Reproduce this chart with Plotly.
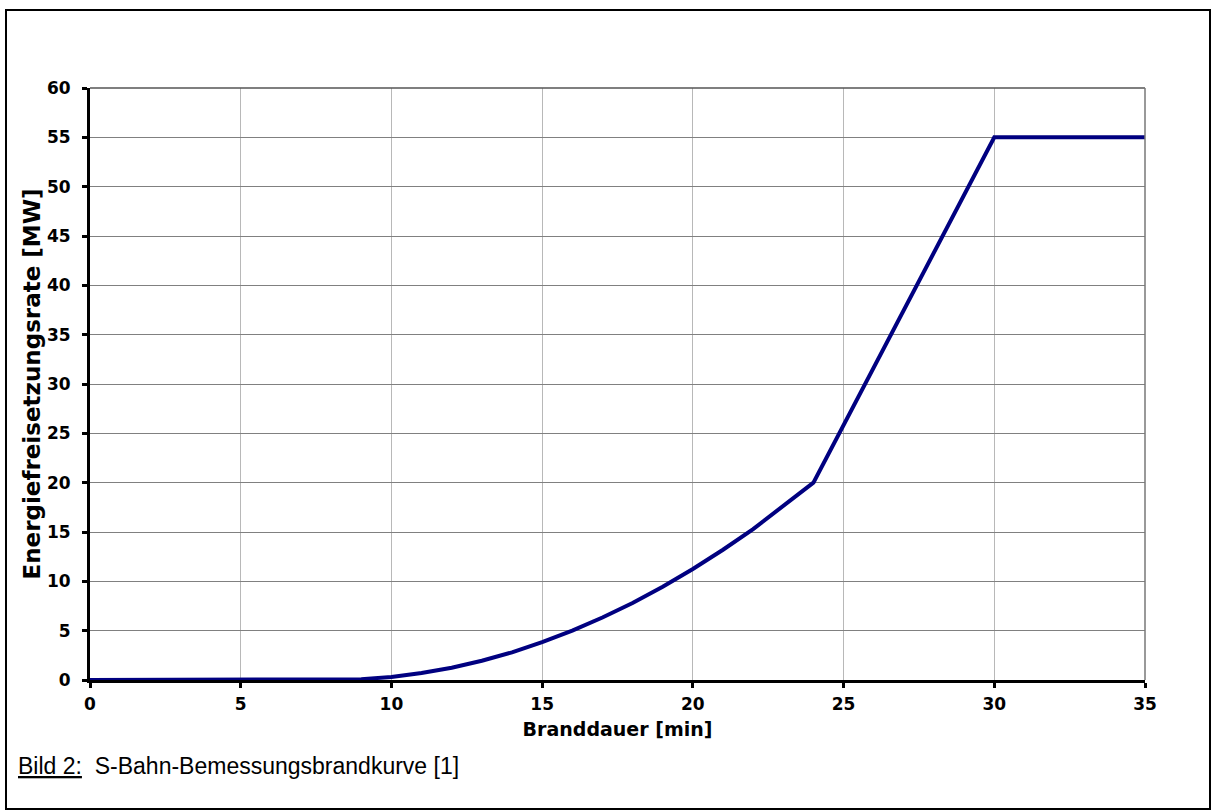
import plotly.graph_objects as go

# Data
time_min = [0, 8, 9, 10, 11, 12, 13, 14, 15, 16, 17, 18, 19, 20, 21, 22, 23, 24, 30, 35]
power_mw = [0, 0, 0.08, 0.31, 0.70, 1.25, 1.95, 2.8, 3.83, 5.0, 6.33, 7.8, 9.45, 11.25, 13.2, 15.3, 17.6, 20, 55, 55]

x_ticks = [0, 5, 10, 15, 20, 25, 30, 35]
y_ticks = [0, 5, 10, 15, 20, 25, 30, 35, 40, 45, 50, 55, 60]

BOLD = "DejaVu Sans, Liberation Sans, Arial, sans-serif"
REG = "Liberation Sans, Arial, sans-serif"

fig = go.Figure()
fig.add_trace(go.Scatter(
    x=time_min, y=power_mw, mode="lines",
    line=dict(color="#000080", width=4),
    showlegend=False, cliponaxis=False,
))

fig.update_layout(
    width=1211, height=810,
    margin=dict(l=90, r=66, t=88, b=130),
    paper_bgcolor="white", plot_bgcolor="white",
    font=dict(family=BOLD, color="black"),
)

fig.update_xaxes(
    range=[0, 35], tickvals=x_ticks, ticktext=[f"<b>{v}</b>" for v in x_ticks],
    showgrid=True, gridcolor="#b8b8b8", gridwidth=1,
    showline=True, linecolor="black", linewidth=3,
    ticks="outside", ticklen=5, tickwidth=3, tickcolor="black",
    ticklabelstandoff=2,
    tickfont=dict(family=BOLD, size=17, color="black"),
    title=dict(text="<b>Branddauer [min]</b>", font=dict(family=BOLD, size=19, color="black"), standoff=10),
    zeroline=False, mirror=False,
)
fig.update_yaxes(
    range=[0, 60], tickvals=y_ticks, ticktext=[f"<b>{v}</b>" for v in y_ticks],
    showgrid=True, gridcolor="#808080", gridwidth=1,
    showline=True, linecolor="black", linewidth=3,
    ticks="outside", ticklen=5, tickwidth=3, tickcolor="black",
    ticklabelstandoff=8,
    tickfont=dict(family=BOLD, size=17, color="black"),
    title=dict(text="<b>Energiefreisetzungsrate [MW]</b>", font=dict(family=BOLD, size=23, color="black"), standoff=0),
    zeroline=False, mirror=False,
)

# top/right plot-area border (gray)
fig.add_shape(type="line", xref="x domain", yref="y domain", x0=0, x1=1, y0=1, y1=1,
              line=dict(color="#555555", width=1.5))
fig.add_shape(type="line", xref="x domain", yref="y domain", x0=1, x1=1, y0=0, y1=1,
              line=dict(color="#777777", width=1.5))

# outer frame
fig.add_shape(type="rect", xref="paper", yref="paper",
              x0=-84 / 1055, x1=1120 / 1055, y0=(680 - 809) / 592, y1=(680 - 10) / 592,
              line=dict(color="black", width=2), layer="above")

# caption
fig.add_annotation(
    xref="paper", yref="paper", x=-74 / 1055, y=(680 - 766) / 592,
    xanchor="left", yanchor="middle", showarrow=False,
    text="<u>Bild 2:</u>  S-Bahn-Bemessungsbrandkurve [1]",
    font=dict(family=REG, size=23, color="black"),
)

fig.write_html("out.html", config={"displayModeBar": False},
               post_script="document.body.style.margin='0px';")
